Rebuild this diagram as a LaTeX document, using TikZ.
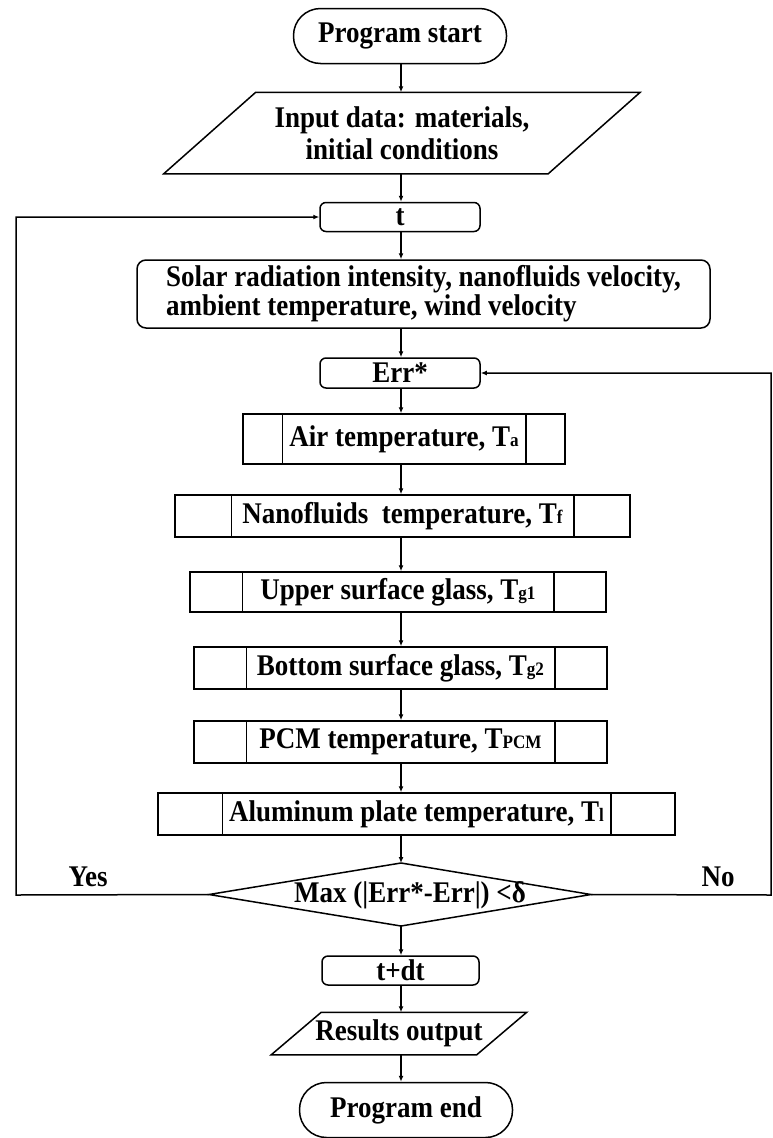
\documentclass[tikz,border=0pt]{standalone}
\usepackage{fontspec}
\setmainfont{Liberation Serif}[FakeStretch=0.9]
\usetikzlibrary{calc}
\usetikzlibrary{arrows.meta}

\newcommand{\lowtext}[1]{{\fontsize{19}{19}\selectfont #1}}

\begin{document}
\begin{tikzpicture}[x=1pt, y=-1pt, line width=1.5pt, >={Latex[length=6pt, width=5pt]},
  txt/.style={font=\bfseries\fontsize{30}{32}\selectfont, inner sep=0},
  term/.style={txt, draw, rounded corners=27pt, minimum width=213pt, minimum height=55pt},
  rbox/.style={txt, draw, rounded corners=6pt, minimum width=160pt, minimum height=29pt},
  proc/.style={txt, draw, minimum height=42pt}]

\useasboundingbox (0,0) rectangle (773,1138);

\coordinate (ax) at (401,0);

\node[term] (start) at (400,36) {Program start};

\node[txt, align=center, minimum width=383pt, minimum height=80pt] (inp) at (402,133) {Input data: materials,\\initial conditions};
\draw ($(inp.south west)+(-46,0)$) -- ($(inp.south east)+(-46,0)$) -- ($(inp.north east)+(46,0)$) -- ($(inp.north west)+(46,0)$) -- cycle;

\node[rbox] (t) at (400,217) {t};
\node[txt, draw, rounded corners=9pt, align=left, minimum width=573pt, minimum height=68pt,
  font=\bfseries\fontsize{30}{29}\selectfont] (sol) at (423.5,294)
  {Solar radiation intensity, nanofluids velocity,\\ambient temperature, wind velocity};
\node[rbox, minimum height=30pt] (err) at (400,373) {Err*};

\node[proc, minimum width=322pt, minimum height=50pt] (air) at (404,439) {Air temperature, T\lowtext{a}};
\node[proc, minimum width=455pt] (nano) at (402.5,516) {Nanofluids\ \ temperature, T\lowtext{f}};
\node[proc, minimum width=416pt, minimum height=40pt] (upp) at (398,592) {Upper surface glass, T\lowtext{g1}};
\node[proc, minimum width=413pt] (bot) at (400.5,668) {Bottom surface glass, T\lowtext{g2}};
\node[proc, minimum width=413pt] (pcm) at (400.5,742) {PCM temperature, T\lowtext{PCM}};
\node[proc, minimum width=517pt] (alu) at (416.5,814) {Aluminum plate temperature, T\lowtext{l}};

\foreach \n/\o in {air/40, nano/57, upp/53, bot/53, pcm/53, alu/65}
{
  \draw ($(\n.north west)+(\o,0)$) -- ($(\n.south west)+(\o,0)$);
  \draw ($(\n.north east)+(-\o,0)$) -- ($(\n.south east)+(-\o,0)$);
}

\node[txt] (dec) at (410,895) {Max (|Err*-Err|) <δ};
\coordinate (dc) at (401,894.5);
\coordinate (dn) at ($(dc)+(0,-31.5)$);
\coordinate (ds) at ($(dc)+(0,31.5)$);
\coordinate (dw) at ($(dc)+(-192,0)$);
\coordinate (de) at ($(dc)+(190,0)$);
\draw (dn) -- (de) -- (ds) -- (dw) -- cycle;

\node[txt] (yes) at (88,877) {Yes};
\node[txt] (no) at (718,877) {No};

\coordinate (lp) at (16,895);
\coordinate (rp) at (771,895);
\draw[->] (dw) -- (lp) |- (t);
\draw[->] (de) -- (rp) |- (err);

\node[rbox, minimum width=157pt] (tdt) at (400.5,970.5) {t+dt};
\node[txt, minimum width=204pt, minimum height=41pt] (res) at (399,1033.5) {Results output};
\draw ($(res.south west)+(-25,0)$) -- ($(res.south east)+(-25,0)$) -- ($(res.north east)+(25,0)$) -- ($(res.north west)+(25,0)$) -- cycle;
\node[term] (end) at (406,1110) {Program end};

\foreach \a/\b in {start/inp, inp/t, t/sol, sol/err, err/air, air/nano, nano/upp, upp/bot, bot/pcm, pcm/alu, tdt/res, res/end}
  \draw[->] (\a.south -| ax) -- (\b.north -| ax);
\draw[->] (alu.south -| ax) -- (dn);
\draw[->] (ds) -- (tdt.north -| ax);

\end{tikzpicture}
\end{document}
